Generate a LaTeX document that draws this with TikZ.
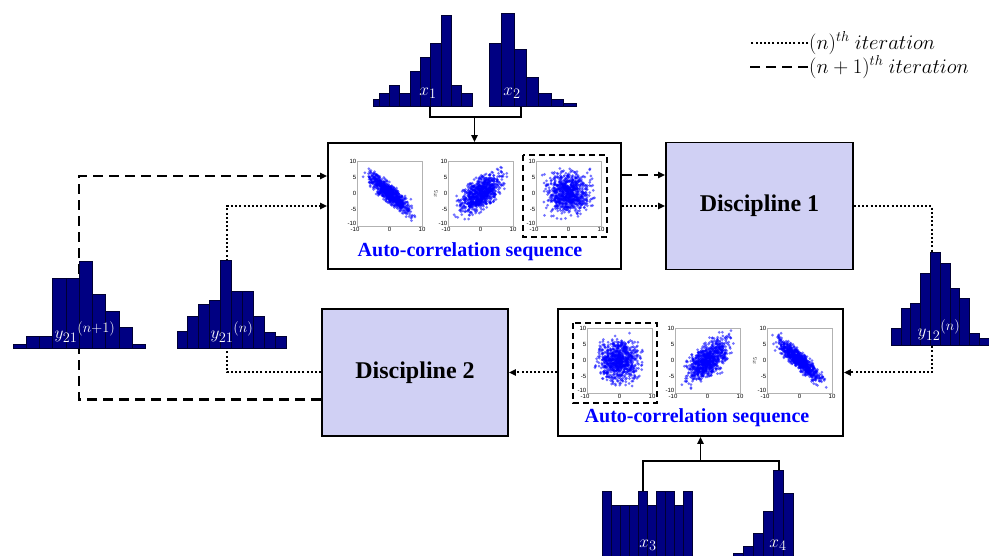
\documentclass[tikz,border=0pt]{standalone}
\usepackage{fontspec}
\setmainfont{Liberation Serif}
\setsansfont{Liberation Sans}
\usepackage{amsmath}
\usetikzlibrary{calc}
\usetikzlibrary{arrows.meta}
\definecolor{barblue}{RGB}{0,0,130}
\definecolor{discfill}{RGB}{208,208,244}

\tikzset{
  box/.style={draw=black,line width=1.6pt,fill=white,inner sep=0pt},
  disc/.style={box,fill=discfill,font=\fontsize{24}{24}\selectfont\bfseries},
  acs/.style={text=blue,font=\fontsize{20}{20}\selectfont\bfseries,inner sep=1pt},
  bar/.style={fill=barblue,draw=black!60!barblue,line width=0.4pt},
  hlab/.style={text=white,font=\fontsize{19}{19}\selectfont,inner sep=0pt},
  legtext/.style={font=\fontsize{21}{21}\selectfont,inner sep=1pt},
  conn/.style={line width=1.8pt},
  dotline/.style={line width=2pt,dash pattern=on 2pt off 2.2pt},
  dashline/.style={line width=2.4pt,dash pattern=on 10pt off 6pt},
  selbox/.style={line width=1.6pt,dash pattern=on 6pt off 4pt},
  frame/.style={draw=gray!60,line width=0.5pt},
  pt/.style={fill=blue,fill opacity=0.55},
  ticklab/.style={font=\sffamily\fontsize{6}{6}\selectfont,inner sep=0.6pt}
}

% scatter: left, top, slope, noise, y label
\newcommand{\scat}[5]{%
\begin{scope}[shift={(#1,#2)}]
\foreach \k in {1,...,850}{
  \pgfmathsetmacro{\px}{3*(rand+rand+rand)}
  \pgfmathsetmacro{\py}{#3*\px+#4*(rand+rand+rand)}
  \pgfmathsetmacro{\px}{max(-10.3,min(10.3,\px))}
  \pgfmathsetmacro{\py}{max(-10.3,min(10.3,\py))}
  \fill[pt] ({32.5+3.25*\px},{32.5-3.25*\py}) circle (1.5);
}
\draw[frame] (0,0) rectangle (65,65);
\foreach \tp/\lab in {0/10,16.25/5,32.5/0,48.75/-5,62/-10}
  \node[ticklab,left] at (0,\tp) {\lab};
\foreach \tp/\lab in {-2/-10,32.5/0,65/10}
  \node[ticklab,below] at (\tp,66) {\lab};
\node[ticklab,rotate=90] at (-12,32.5) {#5};
\end{scope}}

% histogram: left, base, bar width, heights
\newcommand{\hist}[4]{%
\foreach \hh [count=\ib from 0] in {#4}
  \filldraw[bar] ({#1+\ib*#3},#2) rectangle ++(#3,-\hh);}

\begin{document}
\begin{tikzpicture}[x=1pt,y=-1pt,>={Triangle[length=7pt,width=6pt]}]
\useasboundingbox (0,0) rectangle (989,556);
\clip (0,0) rectangle (989,556);
\pgfmathsetseed{7}

\node[box,minimum width=293,minimum height=126] (sc1) at (474.5,206) {};
\node[box,minimum width=285,minimum height=127] (sc2) at (700.5,372.5) {};
\node[disc,minimum width=187,minimum height=127] (d1) at (759.5,206) {Discipline 1};
\node[disc,minimum width=186,minimum height=127] (d2) at (415,372.5) {Discipline 2};

\scat{357}{161}{-0.85}{1.4}{}
\scat{448}{161}{0.55}{2.3}{$x_5$}
\scat{536}{161}{0}{3}{}
\draw[selbox] (523,155) rectangle (607,237);
\node[acs] (acs1) at (470,252) {Auto-correlation sequence};

\scat{587}{328}{0}{3}{}
\scat{675}{328}{0.55}{2.3}{}
\scat{767}{328}{-0.85}{1.4}{$x_5$}
\draw[selbox] (573,323) rectangle (657,403);
\node[acs] (acs2) at (697,418) {Auto-correlation sequence};

\coordinate (h1) at (430,106);
\coordinate (h2) at (521,106);
\coordinate (j1) at (474.5,117);
\coordinate (h3) at (643,491);
\coordinate (h4) at (779,470);
\coordinate (j2) at (700.5,461);
\coordinate (ya) at (79,348);
\coordinate (yb) at (227,348);
\coordinate (yc) at (932,345);

\draw[conn] (h1) |- (j1) -| (h2);
\draw[conn,->] (j1) -- (sc1);
\draw[conn] (h3) |- (j2) -| (h4);
\draw[conn,->] (j2) -- (sc2);

\draw[dashline,->] ($(d2.west)+(0,27)$) -| (ya) |- ($(sc1.west)+(0,-30)$);
\draw[dotline,->] (d2.west) -| (yb) |- (sc1.west);
\draw[dashline,->] ($(sc1.east)+(0,-31)$) -- ($(d1.west)+(0,-31)$);
\draw[dotline,->] (sc1) -- (d1);
\draw[dotline,->] (d1) -| (yc) |- (sc2);
\draw[dotline,->] (sc2) -- (d2);

\filldraw[bar] (373,106) rectangle (379,99);
\hist{379}{106}{10.3}{13,21,13,35,49,63,91,21,13}
\hist{489}{106}{12.4}{63,93,57,29,13,7,3}
\hist{12.7}{348}{13.25}{4,12,12,70,70,87,54,37,21,4}
\hist{176.7}{348}{10.9}{17,32,44,48,88,57,57,32,16,12}
\hist{891}{345}{9.8}{17,37,42,72,93,82,57,47,12,7}
\hist{602}{560}{9}{69,55,55,55,69,55,69,69,55,69}
\hist{733}{560}{10}{7,14,27,49,90,67}

\node[hlab] (lx1) at (428,93) {$x_1$};
\node[hlab] (lx2) at (512,93) {$x_2$};
\node[hlab] (ly1) at (85,332) {$y_{21}{}^{(n+1)}$};
\node[hlab] (ly2) at (232,332) {$y_{21}{}^{(n)}$};
\node[hlab] (ly3) at (939,330) {$y_{12}{}^{(n)}$};
\node[hlab] (lx3) at (648,545) {$x_3$};
\node[hlab] (lx4) at (778,545) {$x_4$};

\node[legtext,anchor=west] (leg1) at (808,43) {$(n)^{th}\ iteration$};
\node[legtext,anchor=west] (leg2) at (808,67) {$(n+1)^{th}\ iteration$};
\draw[dotline] (leg1.west) -- ++(-58,0);
\draw[dashline] (leg2.west) -- ++(-58,0);
\end{tikzpicture}
\end{document}
